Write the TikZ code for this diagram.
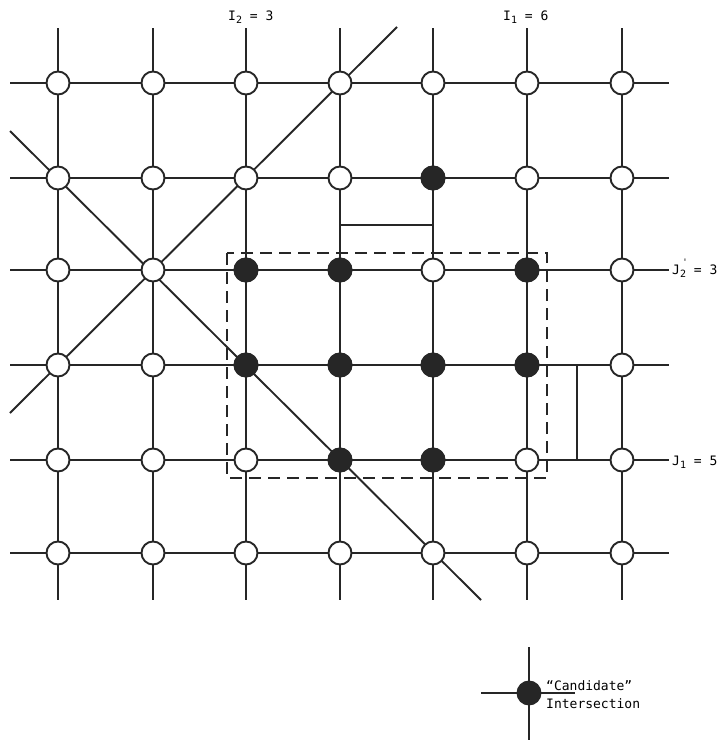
\documentclass[tikz,border=0pt]{standalone}
\usepackage{fontspec}
\setmonofont{DejaVu Sans Mono}
\newcommand{\mysub}[1]{\raisebox{-0.45ex}{\fontsize{10}{10}\selectfont #1}}
\newcommand{\mysubprime}[1]{\rlap{\raisebox{1.2ex}{\fontsize{9}{9}\selectfont\kern0.25em '}}\raisebox{-0.45ex}{\fontsize{10}{10}\selectfont #1}}
\begin{document}
\begin{tikzpicture}[x=1pt,y=-1pt,
  gridline/.style={line width=1.9pt,black!85},
  cand/.style={circle,fill=black!85,draw=black!85,line width=1.9pt,minimum size=23pt,inner sep=0pt},
  open/.style={circle,fill=white,draw=black!85,line width=1.9pt,minimum size=23pt,inner sep=0pt},
  lbl/.style={font=\ttfamily\fontsize{13}{15}\selectfont,inner sep=0pt,anchor=base west},
  leg/.style={font=\ttfamily\fontsize{13}{15}\selectfont,inner sep=0pt,anchor=base west}]
\useasboundingbox (0,0) rectangle (723,742);
% column and row coordinates
\def\cols{58,153,246,340,433,527,622}
\def\rows{83,178,270,365,460,553}
% line ends
\foreach \x [count=\i] in \cols {
  \coordinate (vt\i) at (\x,28);
  \coordinate (vb\i) at (\x,600);
}
\foreach \y [count=\j] in \rows {
  \coordinate (hl\j) at (10,\y);
  \coordinate (hr\j) at (669,\y);
}
\foreach \i in {1,...,7} \draw[gridline] (vt\i) -- (vb\i);
\foreach \j in {1,...,6} \draw[gridline] (hl\j) -- (hr\j);
% diagonals
\coordinate (d1a) at (10,131);
\coordinate (d1b) at (481,600);
\coordinate (d2a) at (10,413);
\coordinate (d2b) at (397,27);
\draw[gridline] (d1a) -- (d1b);
\draw[gridline] (d2a) -- (d2b);
% brackets
\coordinate (bt1) at (340,225);
\coordinate (bt2) at (433,225);
\draw[line width=1.6pt,black!85] (bt1) -- (bt2);
\coordinate (br1) at (577,365);
\coordinate (br2) at (577,460);
\draw[line width=1.6pt,black!85] (br1) -- (br2);
% dashed window
\coordinate (w1) at (227,253);
\coordinate (w2) at (547,478);
\draw[line width=1.9pt,black!85,dash pattern=on 12pt off 7pt] (w1) rectangle (w2);
% intersections
\foreach \x [count=\i] in \cols {
  \foreach \y [count=\j] in \rows {
    \node[open] (n\i-\j) at (\x,\y) {};
  }
}
\foreach \i/\j in {5/2, 3/3, 4/3, 6/3, 3/4, 4/4, 5/4, 6/4, 4/5, 5/5} {
  \node[cand] at (n\i-\j) {};
}
% labels
\node[lbl] (lI2) at (228,20) {I\mysub{2} = 3};
\node[lbl] (lI1) at (503,20) {I\mysub{1} = 6};
\node[lbl] (lJ2) at (672,274) {J\mysubprime{2} = 3};
\node[lbl] (lJ1) at (672,465) {J\mysub{1} = 5};
% legend
\coordinate (lgt) at (529,647);
\coordinate (lgb) at (529,740);
\coordinate (lgl) at (481,693);
\coordinate (lgr) at (575,693);
\draw[gridline] (lgt) -- (lgb);
\draw[gridline] (lgl) -- (lgr);
\node[cand] (lgc) at (529,693) {};
\node[leg] (lgtext1) at (546,690) {“Candidate”};
\node[leg] (lgtext2) at (546,708) {Intersection};
\end{tikzpicture}
\end{document}
